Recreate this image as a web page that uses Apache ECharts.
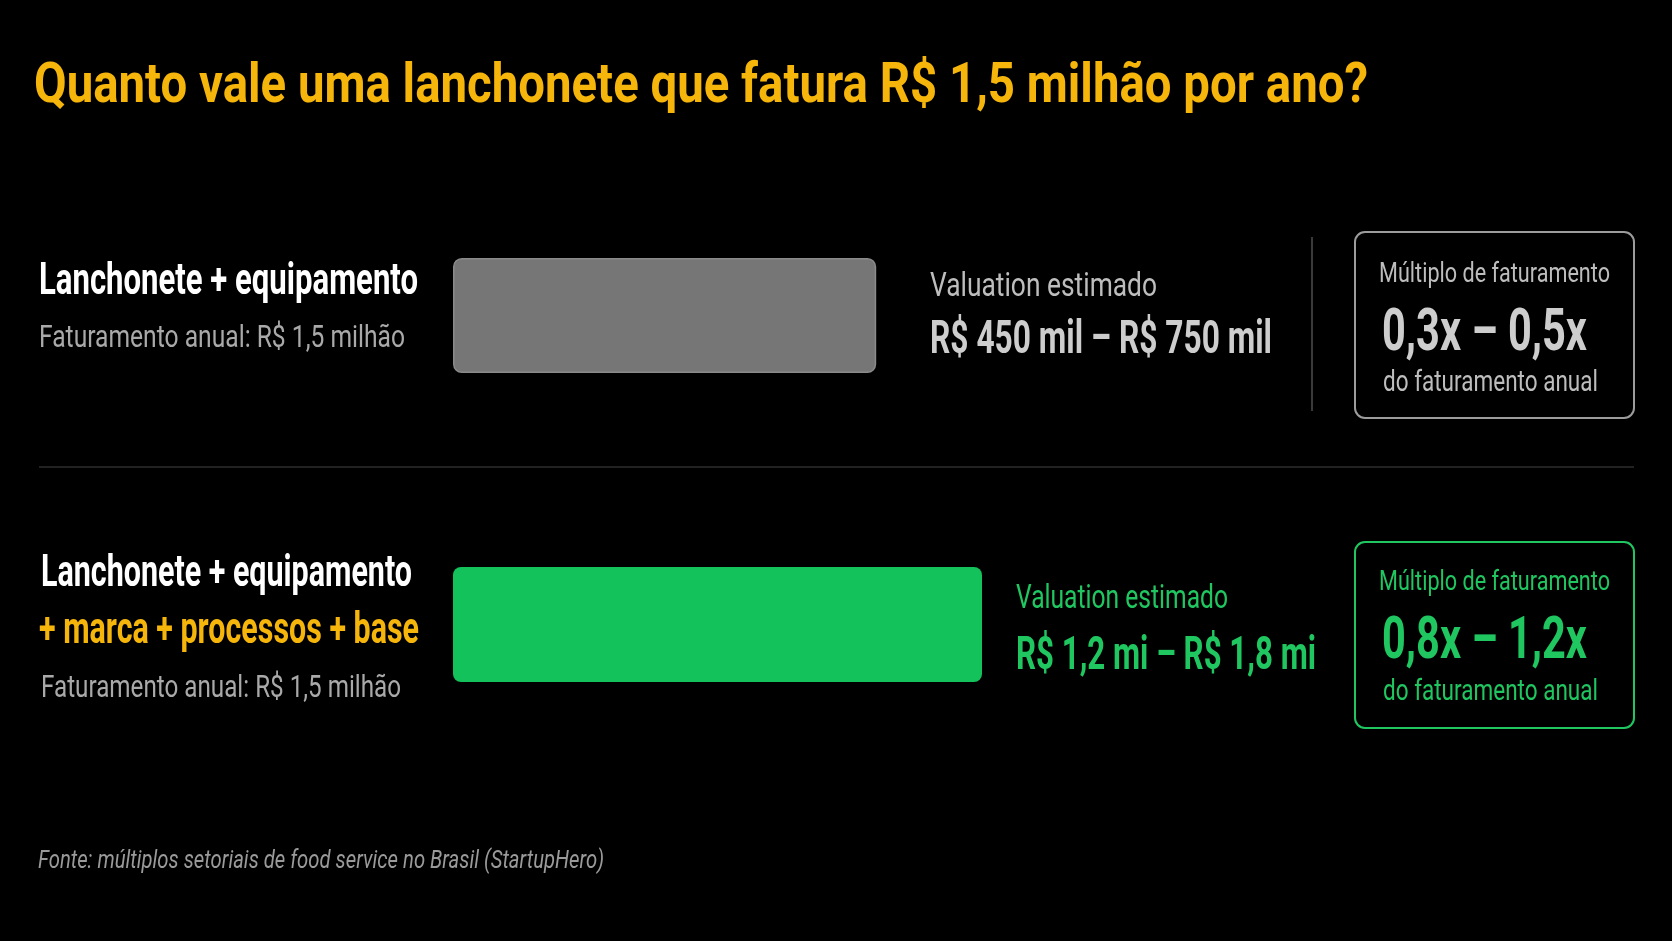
<!DOCTYPE html>
<html><head><meta charset="utf-8">
<script src="https://cdn.jsdelivr.net/npm/echarts@6/dist/echarts.min.js"></script>
<style>html,body{margin:0;padding:0;background:#000;}#c{width:1672px;height:941px;}</style>
</head><body><div id="c"></div>
<script>
const titleText = 'Quanto vale uma lanchonete que fatura R$ 1,5 milhão por ano?';
const categories = ['Lanchonete + equipamento', 'Lanchonete + equipamento + marca + processos + base'];
const rowTitles = ['Lanchonete + equipamento', 'Lanchonete + equipamento'];
const rowExtras = ['', '+ marca + processos + base'];
const revenueLabels = ['Faturamento anual: R$ 1,5 milhão', 'Faturamento anual: R$ 1,5 milhão'];
const barLength = [80, 100];
const valuationCaption = 'Valuation estimado';
const valuationRanges = ['R$ 450 mil – R$ 750 mil', 'R$ 1,2 mi – R$ 1,8 mi'];
const multipleCaption = 'Múltiplo de faturamento';
const multiples = ['0,3x – 0,5x', '0,8x – 1,2x'];
const multipleNote = 'do faturamento anual';
const sourceText = 'Fonte: múltiplos setoriais de food service no Brasil (StartupHero)';

const FONT = 'Roboto, "Liberation Sans", sans-serif';
const YELLOW = '#F5B50A', GREEN = '#13C25A', GREENTXT = '#20C761';
const cv = document.createElement('canvas').getContext('2d');
function txt(text, x, y, size, weight, color, width, opts) {
  opts = opts || {};
  const style = opts.italic ? 'italic ' : '';
  cv.font = style + weight + ' ' + size + 'px ' + FONT;
  const w = cv.measureText(text).width;
  const sx = width ? width / w : 1;
  return {
    type: 'text', x: x, y: y, scaleX: sx, z: 10, silent: true,
    style: {
      text: text, x: 0, y: 0, fill: color,
      fontSize: size, fontWeight: weight, fontFamily: FONT,
      fontStyle: opts.italic ? 'italic' : 'normal',
      align: 'left', verticalAlign: 'middle',
      textAlign: 'left', textVerticalAlign: 'middle'
    }
  };
}

const chart = echarts.init(document.getElementById('c'), null, {renderer: 'canvas'});
const graphics = [
  txt(titleText, 34, 88, 56, 'bold', YELLOW, 1334),
  // row 1
  txt(rowTitles[0], 39, 283, 44, 'bold', '#ffffff', 379),
  txt(revenueLabels[0], 39, 339, 32, 'normal', '#a9a9a9', 366),
  txt(valuationCaption, 930, 287, 34, 'normal', '#bdbdbd', 227),
  txt(valuationRanges[0], 930, 341, 46, 'bold', '#cdcdcd', 342),
  {type: 'line', silent: true, shape: {x1: 1312, y1: 237, x2: 1312, y2: 411}, style: {stroke: '#3a3a3a', lineWidth: 2}},
  {type: 'rect', silent: true, shape: {x: 1355, y: 232, width: 279, height: 186, r: 10}, style: {fill: 'transparent', stroke: '#9c9c9c', lineWidth: 2}},
  txt(multipleCaption, 1379, 275, 28, 'normal', '#bdbdbd', 231),
  txt(multiples[0], 1382, 335, 60, 'bold', '#cdcdcd', 205),
  txt(multipleNote, 1383, 384, 29, 'normal', '#bdbdbd', 215),
  // separator
  {type: 'line', silent: true, shape: {x1: 39, y1: 467, x2: 1634, y2: 467}, style: {stroke: '#2c2c2c', lineWidth: 1.5}},
  // row 2
  txt(rowTitles[1], 41, 575, 44, 'bold', '#ffffff', 371),
  txt(rowExtras[1], 39, 632, 44, 'bold', YELLOW, 380),
  txt(revenueLabels[1], 41, 689, 32, 'normal', '#a9a9a9', 360),
  txt(valuationCaption, 1016, 599, 34, 'normal', GREENTXT, 212),
  txt(valuationRanges[1], 1016, 657, 46, 'bold', GREENTXT, 300),
  {type: 'rect', silent: true, shape: {x: 1355, y: 542, width: 279, height: 186, r: 10}, style: {fill: 'transparent', stroke: GREENTXT, lineWidth: 2}},
  txt(multipleCaption, 1379, 583, 28, 'normal', GREENTXT, 231),
  txt(multiples[1], 1382, 643, 60, 'bold', GREENTXT, 205),
  txt(multipleNote, 1383, 693, 29, 'normal', GREENTXT, 215),
  // footer
  txt(sourceText, 38, 862, 25, 'normal', '#9a9a9a', 566, {italic: true})
];

chart.setOption({
  backgroundColor: '#000000',
  animation: false,
  grid: {left: 453, right: 690, top: 161, bottom: 162},
  xAxis: {type: 'value', min: 0, max: 100, show: false},
  yAxis: {type: 'category', data: categories, inverse: true, show: false},
  series: [{
    type: 'bar', barWidth: 115,
    data: barLength.map((v, i) => ({
      value: v,
      itemStyle: i === 0
        ? {color: '#767676', borderColor: '#8a8a8a', borderWidth: 1.5, borderRadius: 8}
        : {color: GREEN, borderRadius: 8}
    }))
  }],
  graphic: graphics
});
</script></body></html>
